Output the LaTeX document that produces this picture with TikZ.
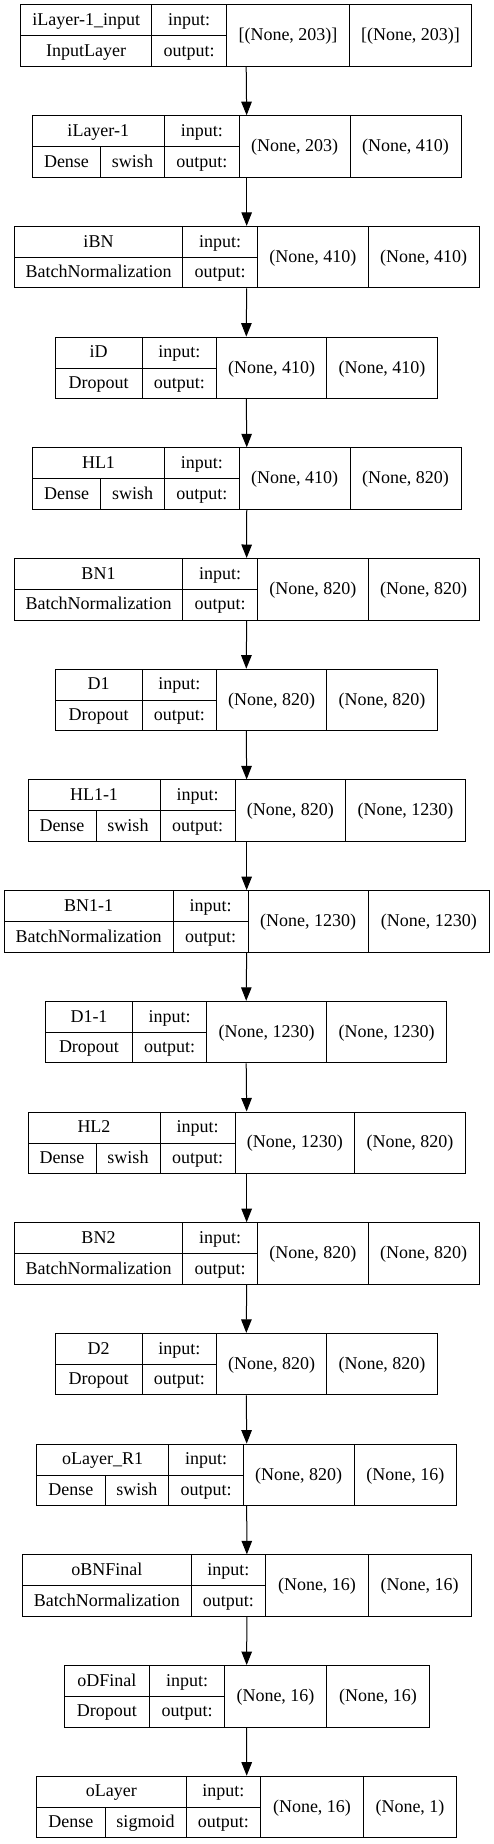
\documentclass[tikz,border=0pt]{standalone}
\usepackage{fontspec}
\setmainfont{Liberation Serif}
\usetikzlibrary{arrows.meta}
\begin{document}
\begin{tikzpicture}[x=1pt, y=1pt,
    box/.style={rectangle, draw, line width=1pt, inner sep=0pt, minimum height=61.5pt},
    lbl/.style={inner sep=0pt, text height=13pt, text depth=2.6pt, font=\fontsize{18}{20}\selectfont},
    arr/.style={-{Triangle[length=13.5pt, width=10.5pt]}, line width=1pt}
]
\useasboundingbox (0,0) rectangle (493,-1844);

% Layer: nr/name/type/activation/input/output/left/cut1/cut2/cut3/right/split
\foreach \k/\lname/\ltype/\lact/\lin/\lout/\xl/\xa/\xb/\xc/\xr/\xs in {
    1/{iLayer-1\_input}/InputLayer/{}/{[(None, 203)]}/{[(None, 203)]}/20.7/151.7/226.7/349.3/471.7/0,
    2/iLayer-1/Dense/swish/{(None, 203)}/{(None, 410)}/32.3/164.3/239.3/350/461/100.7,
    3/iBN/BatchNormalization/{}/{(None, 410)}/{(None, 410)}/14.3/182.7/257.3/368.3/479/0,
    4/iD/Dropout/{}/{(None, 410)}/{(None, 410)}/55.3/142/216.5/326.7/437.3/0,
    5/HL1/Dense/swish/{(None, 410)}/{(None, 820)}/32.5/164.5/239.3/350/461/100.8,
    6/BN1/BatchNormalization/{}/{(None, 820)}/{(None, 820)}/14.3/182.7/257.3/368.3/479/0,
    7/D1/Dropout/{}/{(None, 820)}/{(None, 820)}/55.3/142/216.5/326.7/437.3/0,
    8/HL1-1/Dense/swish/{(None, 820)}/{(None, 1230)}/28/160/235/345.7/465.3/96,
    9/BN1-1/BatchNormalization/{}/{(None, 1230)}/{(None, 1230)}/4/173.3/248/368.3/489.3/0,
    10/D1-1/Dropout/{}/{(None, 1230)}/{(None, 1230)}/45.7/132.3/206.7/326.7/446.7/0,
    11/HL2/Dense/swish/{(None, 1230)}/{(None, 820)}/28/160/235/354.7/465.3/96,
    12/BN2/BatchNormalization/{}/{(None, 820)}/{(None, 820)}/14.3/182.7/257.3/368.3/479/0,
    13/D2/Dropout/{}/{(None, 820)}/{(None, 820)}/55.3/142/216.5/326.7/437.3/0,
    14/{oLayer\_R1}/Dense/swish/{(None, 820)}/{(None, 16)}/36.7/168.7/243.3/354/456.7/105,
    15/oBNFinal/BatchNormalization/{}/{(None, 16)}/{(None, 16)}/22.7/191/265.7/368.3/471/0,
    16/oDFinal/Dropout/{}/{(None, 16)}/{(None, 16)}/64/149.7/224.3/326.7/429.3/0,
    17/oLayer/Dense/sigmoid/{(None, 16)}/{(None, 1)}/36.7/186/260.7/363.3/456.7/105} {
    \pgfmathsetmacro{\yt}{-5-(\k-1)*110.7}
    \pgfmathsetmacro{\ym}{\yt-31}
    \pgfmathsetmacro{\yb}{\yt-61.5}
    \node[box, minimum width={(\xr-\xl)*1pt}] (L\k) at ({(\xl+\xr)/2}, {\yt-30.75}) {};
    \draw[line width=1pt] (\xa,\yt) -- (\xa,\yb) (\xb,\yt) -- (\xb,\yb)
        (\xc,\yt) -- (\xc,\yb) (\xl,\ym) -- (\xb,\ym);
    \node[lbl] (nm\k) at ({(\xl+\xa)/2}, {(\yt+\ym)/2}) {\lname};
    \node[lbl] (in\k) at ({(\xa+\xb)/2}, {(\yt+\ym)/2}) {input:};
    \node[lbl] (out\k) at ({(\xa+\xb)/2}, {(\ym+\yb)/2}) {output:};
    \node[lbl] (si\k) at ({(\xb+\xc)/2}, {\yt-30.75}) {\lin};
    \node[lbl] (so\k) at ({(\xc+\xr)/2}, {\yt-30.75}) {\lout};
    \ifdim\xs pt>0pt
        \draw[line width=1pt] (\xs,\ym) -- (\xs,\yb);
        \node[lbl] (ty\k) at ({(\xl+\xs)/2}, {(\ym+\yb)/2}) {\ltype};
        \node[lbl] (ac\k) at ({(\xs+\xa)/2}, {(\ym+\yb)/2}) {\lact};
    \else
        \node[lbl] (ty\k) at ({(\xl+\xa)/2}, {(\ym+\yb)/2}) {\ltype};
    \fi
}

% arrows
\foreach \k [evaluate=\k as \j using int(\k+1)] in {1,...,16}
    \draw[arr] (L\k.south) -- (L\j.north);
\end{tikzpicture}
\end{document}
